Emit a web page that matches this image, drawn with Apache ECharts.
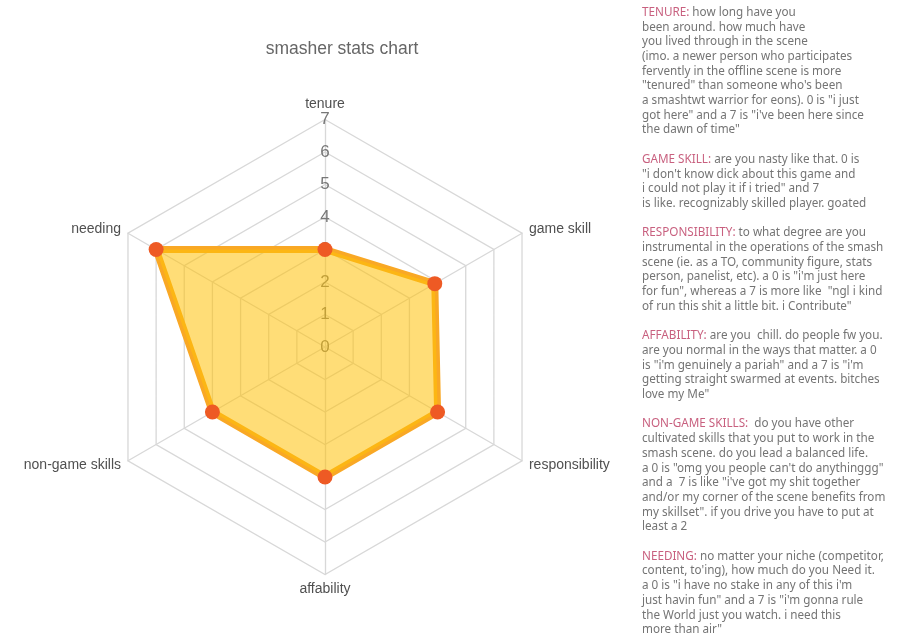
<!DOCTYPE html>
<html>
<head>
<meta charset="utf-8">
<script src="https://cdn.jsdelivr.net/npm/echarts@6/dist/echarts.min.js"></script>
<style>
html,body{margin:0;padding:0;background:#fff;}
#chart{width:900px;height:644px;}
</style>
</head>
<body>
<div id="chart"></div>
<script>
// ---- data ----
const indicators = ['tenure', 'game skill', 'responsibility', 'affability', 'non-game skills', 'needing'];
const values = [3, 3.9, 4, 4, 4, 6];
const maxValue = 7;
const tickLabels = ['0', '1', '2', '3', '4', '5', '6', '7'];
const chartTitle = 'smasher stats chart';

const descHeads = ['TENURE:', 'GAME SKILL:', 'RESPONSIBILITY:', 'AFFABILITY:', 'NON-GAME SKILLS:', 'NEEDING:'];
const descTenure = [
  ' how long have you',
  'been around. how much have',
  'you lived through in the scene',
  '(imo. a newer person who participates',
  'fervently in the offline scene is more',
  '"tenured" than someone who\'s been',
  'a smashtwt warrior for eons). 0 is "i just',
  'got here" and a 7 is "i\'ve been here since',
  'the dawn of time"'
];
const descGameSkill = [
  ' are you nasty like that. 0 is',
  '"i don\'t know dick about this game and',
  'i could not play it if i tried" and 7',
  'is like. recognizably skilled player. goated'
];
const descResponsibility = [
  ' to what degree are you',
  'instrumental in the operations of the smash',
  'scene (ie. as a TO, community figure, stats',
  'person, panelist, etc). a 0 is "i\'m just here',
  'for fun", whereas a 7 is more like  "ngl i kind',
  'of run this shit a little bit. i Contribute"'
];
const descAffability = [
  ' are you  chill. do people fw you.',
  'are you normal in the ways that matter. a 0',
  'is "i\'m genuinely a pariah" and a 7 is "i\'m',
  'getting straight swarmed at events. bitches',
  'love my Me"'
];
const descNonGame = [
  '  do you have other',
  'cultivated skills that you put to work in the',
  'smash scene. do you lead a balanced life.',
  'a 0 is "omg you people can\'t do anythinggg"',
  'and a  7 is like "i\'ve got my shit together',
  'and/or my corner of the scene benefits from',
  'my skillset". if you drive you have to put at',
  'least a 2'
];
const descNeeding = [
  ' no matter your niche (competitor,',
  'content, to\'ing), how much do you Need it.',
  'a 0 is "i have no stake in any of this i\'m',
  'just havin fun" and a 7 is "i\'m gonna rule',
  'the World just you watch. i need this',
  'more than air"'
];
const descBlocks = [descTenure, descGameSkill, descResponsibility, descAffability, descNonGame, descNeeding];

// ---- build ----
// ECharts lays indicators counter-clockwise; reference goes clockwise from top.
const order = [0, 5, 4, 3, 2, 1];
const indicatorOpts = order.map((i, k) => {
  const o = { name: indicators[i], min: 0, max: maxValue };
  if (k === 0) {
    o.axisLabel = {
      show: true, showMinLabel: true, showMaxLabel: true,
      fontSize: 17, color: '#777', fontFamily: 'Liberation Sans',
      margin: 0, align: 'center', verticalAlign: 'middle',
      formatter: v => tickLabels[Math.round(v)]
    };
  }
  return o;
});
const orderedValues = order.map(i => values[i]);

const lines = [];
descBlocks.forEach((blk, b) => {
  if (b > 0) lines.push('{b| }');
  blk.forEach((ln, j) => {
    if (j === 0) lines.push('{h|' + descHeads[b] + '}{b|' + ln + '}');
    else lines.push('{b|' + ln + '}');
  });
});
const LH = 14.7;
const richFont = { fontSize: 11.7, fontFamily: 'Noto Sans', lineHeight: LH };

const chart = echarts.init(document.getElementById('chart'), null, { renderer: 'canvas' });
chart.setOption({
  backgroundColor: '#fff',
  animation: false,
  title: {
    text: chartTitle,
    left: 337, top: 35, textAlign: 'center',
    textStyle: { fontSize: 17.5, fontWeight: 'normal', color: '#666', fontFamily: 'Liberation Sans' }
  },
  radar: {
    center: [325, 347],
    radius: 227.5,
    startAngle: 90,
    splitNumber: 7,
    shape: 'polygon',
    indicator: indicatorOpts,
    axisName: { color: '#505050', fontSize: 14, fontFamily: 'Liberation Sans' },
    nameGap: 8,
    splitLine: { lineStyle: { color: '#d8d8d8', width: 1.3 } },
    splitArea: { show: false },
    axisLine: { lineStyle: { color: '#d8d8d8', width: 1.3 } },
    axisTick: { show: false },
    axisLabel: { show: false }
  },
  series: [{
    type: 'radar',
    symbol: 'circle',
    symbolSize: 15,
    itemStyle: { color: '#EE5A24' },
    lineStyle: { color: '#F9A825', width: 7 },
    areaStyle: { color: '#FFC107', opacity: 0.55 },
    data: [{ value: orderedValues, name: chartTitle }]
  }],
  graphic: [{
    type: 'text',
    left: 642, top: 6.5,
    style: {
      text: lines.join('\n'),
      rich: {
        h: Object.assign({ fill: '#C8607F' }, richFont),
        b: Object.assign({ fill: '#747474' }, richFont)
      }
    }
  }]
});
</script>
</body>
</html>
